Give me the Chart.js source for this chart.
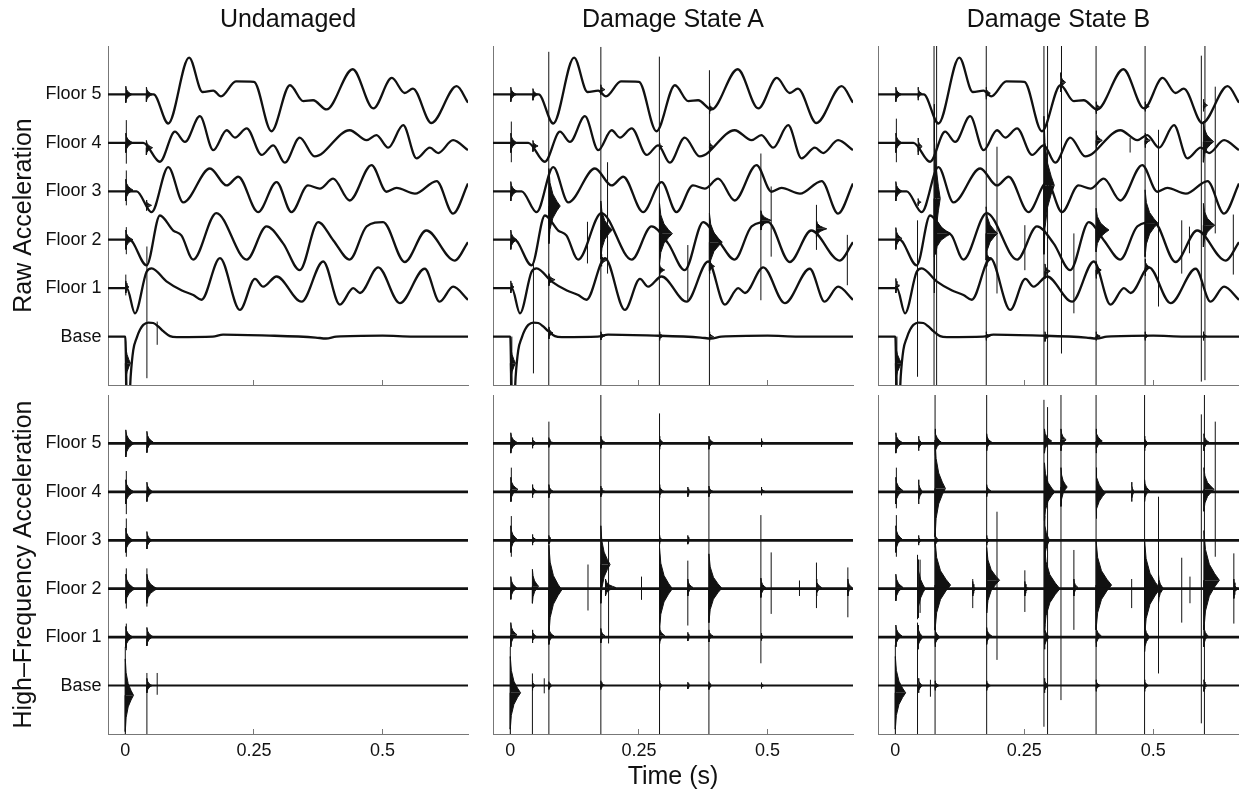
<!DOCTYPE html>
<html><head><meta charset="utf-8">
<script src="https://cdn.jsdelivr.net/npm/chart.js@4.4.1/dist/chart.umd.min.js"></script>
<style>
body{margin:0;background:#fff;width:1239px;height:796px;position:relative;overflow:hidden;font-family:"Liberation Sans",Arial,Helvetica,sans-serif;}
canvas{position:absolute;}
.ttl{position:absolute;top:4px;font-size:25px;line-height:29px;color:#111;white-space:nowrap;transform:translateX(-50%);}
</style></head><body>
<script>
// ---------- labels ----------
const panelTitles = ['Undamaged', 'Damage State A', 'Damage State B'];
const rowTitles = ['Raw Acceleration', 'High\u2013Frequency Acceleration'];
const xTitle = 'Time (s)';
const traceNames = ['Base', 'Floor 1', 'Floor 2', 'Floor 3', 'Floor 4', 'Floor 5'];
const traceOffsets = [1, 2, 3, 4, 5, 6];
const xTickValues = [0, 0.25, 0.5];
const xTickLabels = ['0', '0.25', '0.5'];

// ---------- raw (low-frequency) traces: [time s, value relative to trace baseline] ----------
const rawBase = [[-0.034,0],[0.0,0],[0.003,-1.3],[0.008,-1.3],[0.0104,-0.83],[0.0155,-0.28],[0.022,-0.03],[0.0285,0.14],[0.035,0.24],[0.0447,0.29],[0.0544,0.28],[0.064,0.21],[0.0738,0.11],[0.0868,0.01],[0.1,-0.01],[0.17,0.0],[0.19,0.04],[0.28,0.02],[0.37,-0.02],[0.39,-0.04],[0.41,0.0],[0.5,0.02],[0.56,0.0],[0.666,0.0]];
const rawFloor1 = [[-0.034,0],[0.003,0],[0.0188,-0.52],[0.0414,0.34],[0.0512,0.41],[0.08,0.14],[0.11,-0.05],[0.132,-0.14],[0.148,-0.24],[0.184,0.62],[0.2227,-0.45],[0.252,0.19],[0.268,0.03],[0.294,0.24],[0.3425,-0.28],[0.3846,0.55],[0.417,-0.34],[0.443,0.0],[0.456,-0.1],[0.4915,0.43],[0.5335,-0.31],[0.582,0.40],[0.611,-0.28],[0.637,0.03],[0.666,-0.24]];
const rawFloor2 = [[-0.034,0],[0.008,0],[0.0414,-0.53],[0.0673,0.5],[0.0932,0.19],[0.109,0.09],[0.132,-0.41],[0.177,0.55],[0.236,-0.41],[0.2745,0.275],[0.307,-0.08],[0.339,-0.63],[0.375,0.365],[0.404,-0.01],[0.436,-0.41],[0.469,0.275],[0.501,0.365],[0.543,-0.46],[0.585,0.19],[0.64,-0.43],[0.666,-0.05]];
const rawFloor3 = [[-0.034,0],[0.022,0],[0.0512,-0.43],[0.0835,0.5],[0.1127,-0.23],[0.1645,0.47],[0.197,0.12],[0.2195,0.3],[0.258,-0.43],[0.294,0.19],[0.323,-0.43],[0.355,0.12],[0.378,0.055],[0.404,0.26],[0.436,-0.19],[0.4785,0.54],[0.5076,-0.01],[0.527,0.07],[0.563,-0.05],[0.605,0.21],[0.637,-0.46],[0.666,0.16]];
const rawFloor4 = [[-0.034,0],[0.035,0],[0.0673,-0.39],[0.0965,0.23],[0.116,0.02],[0.145,0.55],[0.171,-0.15],[0.197,0.26],[0.213,0.11],[0.236,0.30],[0.265,-0.25],[0.2875,-0.05],[0.31,-0.41],[0.339,0.11],[0.368,-0.28],[0.436,0.26],[0.469,0.055],[0.488,0.16],[0.511,-0.1],[0.54,0.365],[0.566,-0.32],[0.592,-0.1],[0.608,-0.21],[0.637,0.055],[0.666,-0.15]];
const rawFloor5 = [[-0.034,0],[0.055,0],[0.0835,-0.6],[0.124,0.76],[0.15,0.05],[0.171,0.08],[0.186,-0.04],[0.215,0.27],[0.25,0.26],[0.284,-0.76],[0.32,0.19],[0.346,-0.14],[0.365,-0.12],[0.391,-0.31],[0.442,0.52],[0.482,-0.29],[0.518,0.34],[0.543,0.03],[0.559,0.12],[0.595,-0.59],[0.644,0.17],[0.666,-0.17]];
// high-frequency traces sit on their baselines between impacts
const hfFlat = [[-0.034,0],[0.666,0]];

// ---------- impact bursts: [time s, low, high, decay length s] (absolute row units) ----------
const burstsRawU = [[0.001,5.83,6.17,0.012],[0.041,5.85,6.15,0.012],[0.001,4.8,5.2,0.014],[0.041,4.75,5.05,0.012],[0.001,3.8,4.25,0.014],[0.041,3.6,3.82,0.01],[0.001,2.8,3.2,0.014],[0.001,1.9,2.15,0.006],[0.0,-0.1,1.0,0.01]];
const burstsHfU = [[0.001,5.72,6.28,0.016],[0.042,5.81,6.25,0.012],[0.001,4.75,5.25,0.016],[0.042,4.8,5.2,0.012],[0.001,3.75,4.25,0.014],[0.042,3.82,4.18,0.01],[0.001,2.7,3.3,0.018],[0.042,2.7,3.3,0.02],[0.001,1.78,2.22,0.014],[0.042,1.82,2.2,0.012],[0.0,0.05,1.55,0.016],[0.042,0.85,1.15,0.01]];
const burstsRawA = [[0.001,5.85,6.15,0.011],[0.044,5.88,6.12,0.01],[0.001,4.8,5.2,0.012],[0.044,4.82,5.05,0.01],[0.001,3.8,4.2,0.012],[0.001,2.8,3.2,0.012],[0.001,1.9,2.15,0.006],[0.0,-0.1,1.0,0.01],[0.075,2.92,4.47,0.022],[0.075,2.05,2.3,0.012],[0.075,0.95,1.2,0.008],[0.176,2.6,3.8,0.022],[0.177,2.45,2.7,0.01],[0.176,6.0,6.2,0.008],[0.176,0.93,1.1,0.008],[0.29,2.5,3.75,0.025],[0.29,2.25,2.5,0.01],[0.29,4.85,5.0,0.006],[0.29,0.92,1.1,0.008],[0.387,2.35,3.55,0.025],[0.387,5.6,5.82,0.008],[0.387,4.8,5.05,0.008],[0.387,2.3,2.6,0.01],[0.387,0.9,1.1,0.008],[0.487,3.2,3.6,0.02],[0.595,3.05,3.4,0.02]];
const burstsHfA = [[0.001,5.8,6.22,0.014],[0.001,4.8,5.3,0.014],[0.001,3.75,4.3,0.012],[0.001,2.78,3.25,0.012],[0.001,1.8,2.3,0.012],[0.0,0.1,1.6,0.02],[0.043,5.9,6.12,0.008],[0.043,4.88,5.15,0.008],[0.043,3.9,4.12,0.008],[0.043,2.7,3.4,0.012],[0.043,1.88,2.15,0.008],[0.043,0.9,1.1,0.006],[0.075,2.05,3.9,0.025],[0.075,5.92,6.12,0.006],[0.075,4.88,5.15,0.008],[0.075,3.92,4.1,0.006],[0.075,1.85,2.2,0.01],[0.075,0.92,1.08,0.006],[0.176,2.7,4.3,0.018],[0.185,2.85,3.2,0.02],[0.176,1.88,2.18,0.008],[0.176,5.9,6.15,0.008],[0.176,4.9,5.12,0.006],[0.176,0.92,1.1,0.006],[0.29,2.15,3.85,0.025],[0.29,5.88,6.15,0.008],[0.29,4.88,5.15,0.008],[0.29,3.92,4.1,0.006],[0.29,1.85,2.22,0.01],[0.29,0.9,1.1,0.006],[0.345,2.85,3.2,0.01],[0.345,4.9,5.1,0.005],[0.345,3.92,4.1,0.005],[0.345,1.92,2.1,0.005],[0.345,0.93,1.07,0.005],[0.386,2.3,3.72,0.025],[0.386,5.88,6.15,0.01],[0.386,4.9,5.12,0.008],[0.386,1.9,2.15,0.008],[0.386,0.92,1.08,0.006],[0.487,2.82,3.22,0.01],[0.488,5.93,6.1,0.005],[0.488,4.93,5.1,0.005],[0.488,1.93,2.08,0.005],[0.488,0.94,1.06,0.005],[0.595,2.85,3.2,0.01],[0.656,2.85,3.2,0.008]];
const burstsRawB = [[0.001,5.85,6.15,0.011],[0.001,4.8,5.2,0.012],[0.001,3.8,4.2,0.012],[0.001,2.8,3.25,0.012],[0.001,1.9,2.2,0.006],[0.0,-0.1,1.0,0.012],[0.044,5.88,6.15,0.008],[0.044,4.75,5.1,0.008],[0.044,3.7,3.85,0.006],[0.075,1.9,5.8,0.012],[0.078,2.7,3.55,0.03],[0.176,2.58,3.68,0.022],[0.176,5.9,6.15,0.008],[0.177,2.45,2.75,0.01],[0.176,0.92,1.1,0.008],[0.288,2.7,5.55,0.02],[0.29,2.2,2.5,0.01],[0.29,0.9,1.1,0.008],[0.32,6.05,6.45,0.01],[0.389,5.6,5.85,0.01],[0.389,4.85,5.25,0.012],[0.389,2.75,3.65,0.025],[0.389,2.2,2.55,0.01],[0.389,0.92,1.1,0.008],[0.484,2.65,4.03,0.025],[0.484,5.65,5.85,0.008],[0.484,4.9,5.2,0.01],[0.484,2.25,2.6,0.01],[0.484,0.92,1.1,0.006],[0.597,4.6,5.45,0.02],[0.597,2.85,3.75,0.022],[0.597,5.65,5.9,0.008],[0.597,0.92,1.1,0.006]];
const burstsHfB = [[0.001,5.8,6.22,0.014],[0.001,4.75,5.3,0.014],[0.001,3.75,4.3,0.012],[0.001,2.75,3.3,0.014],[0.001,1.8,2.25,0.012],[0.0,0.1,1.6,0.02],[0.045,5.85,6.15,0.008],[0.045,4.75,5.25,0.008],[0.045,3.9,4.1,0.006],[0.044,2.4,3.6,0.014],[0.044,1.75,2.25,0.01],[0.045,0.85,1.15,0.008],[0.077,5.75,6.3,0.012],[0.077,4.07,6.07,0.02],[0.077,3.85,4.15,0.008],[0.077,2.15,4.0,0.03],[0.077,1.8,2.2,0.01],[0.077,0.9,1.1,0.008],[0.15,2.85,3.15,0.006],[0.177,2.5,3.85,0.025],[0.177,5.85,6.2,0.01],[0.177,4.9,5.15,0.008],[0.177,3.9,4.1,0.006],[0.177,1.85,2.2,0.01],[0.177,0.9,1.1,0.008],[0.251,2.85,3.15,0.006],[0.289,5.8,6.3,0.014],[0.289,4.4,5.6,0.02],[0.289,3.5,4.5,0.01],[0.289,2.1,3.9,0.03],[0.289,1.75,2.25,0.01],[0.289,0.85,1.15,0.008],[0.321,5.85,6.3,0.01],[0.321,4.7,5.5,0.012],[0.346,2.85,3.2,0.008],[0.389,5.8,6.3,0.012],[0.389,4.45,5.5,0.018],[0.389,2.15,4.0,0.03],[0.389,1.8,2.25,0.01],[0.389,0.88,1.12,0.008],[0.458,4.8,5.2,0.005],[0.483,2.0,4.0,0.03],[0.483,5.85,6.15,0.008],[0.483,4.8,5.25,0.01],[0.483,1.7,2.3,0.01],[0.483,0.88,1.12,0.008],[0.51,2.7,3.3,0.01],[0.598,4.6,5.5,0.02],[0.598,2.15,4.2,0.03],[0.598,5.85,6.2,0.01],[0.598,1.8,2.25,0.008],[0.598,0.88,1.12,0.006],[0.656,2.8,3.2,0.006]];

// ---------- thin impact spikes: [time s, low, high] (absolute row units) ----------
const spikesRawU = [[0.002,4.57,5.47],[0.002,3.71,4.43],[0.002,2.7,3.26],[0.001,1.85,2.28],[0.042,0.14,2.86],[0.062,0.83,1.31]];
const spikesHfU = [[0.002,4.54,5.43],[0.002,3.66,4.45],[0.002,2.59,3.42],[0.042,2.63,3.42],[0.002,1.73,2.28],[0.0,0,1.8],[0.042,0,1.26],[0.062,0.81,1.26]];
const spikesRawA = [[0.003,0,1.0],[0.002,4.6,5.44],[0.045,0.24,2.5],[0.0748,0,6.88],[0.150,2.51,3.37],[0.176,0,6.98],[0.189,2.3,4.6],[0.2897,0,6.78],[0.345,1.75,2.89],[0.387,0,6.5],[0.487,1.75,4.78],[0.507,2.65,4.1],[0.595,2.79,3.72],[0.655,2.06,3.1]];
const spikesHfA = [[0.002,4.8,5.5],[0.002,3.66,4.5],[0.0,0,1.8],[0.043,0,1.25],[0.066,0.84,1.15],[0.075,0,6.45],[0.151,2.55,3.5],[0.176,0,7.0],[0.191,1.87,4.0],[0.255,2.77,3.25],[0.29,0,6.62],[0.345,2.24,3.58],[0.386,0,6.04],[0.487,1.46,4.52],[0.507,2.48,3.75],[0.562,2.85,3.17],[0.595,2.6,3.54],[0.656,2.41,3.44]];
const spikesRawB = [[0.003,0,1.0],[0.002,4.6,5.5],[0.043,0.17,3.4],[0.075,0,7.0],[0.08,0,7.0],[0.1762,0,7.0],[0.197,1.89,4.92],[0.251,2.37,3.3],[0.288,0,7.0],[0.295,0,7.0],[0.322,0.65,7.0],[0.346,1.48,3.13],[0.389,0,7.0],[0.455,4.8,5.1],[0.484,0,7.0],[0.510,1.62,5.27],[0.555,2.3,3.4],[0.570,2.72,3.27],[0.593,0.07,6.8],[0.6,0.1,7.0],[0.62,3.13,6.16],[0.655,2.28,3.52]];
const spikesHfB = [[0.002,4.66,5.5],[0.002,3.66,4.52],[0.0,0,1.84],[0.043,2.37,3.7],[0.048,2.5,3.6],[0.043,0,2.3],[0.068,0.77,1.12],[0.077,0,7.0],[0.15,2.6,3.2],[0.177,0,7.0],[0.197,1.53,4.59],[0.251,2.52,3.38],[0.288,0.15,6.9],[0.295,0,6.75],[0.321,0.7,7.0],[0.346,2.15,3.8],[0.389,0,7.0],[0.458,2.6,3.2],[0.483,0,7.0],[0.51,1.25,4.9],[0.555,2.3,3.64],[0.571,2.7,3.25],[0.593,0.22,6.6],[0.599,0,7.0],[0.62,3.66,6.45],[0.656,2.28,3.73]];

// ---------- layout / style ----------
const xMin = -0.0336, xMax = 0.666;
const INK = '#111', AXIS = '#777';
const cols = [{left:0,width:470,axisW:108,padR:2},{left:470,width:385,axisW:23,padR:2},{left:855,width:384,axisW:23,padR:0}];
const rows = [{top:0,height:392,padT:46,axisH:7},{top:392,height:404,padT:3,axisH:62}];
const rawCurves = [rawBase, rawFloor1, rawFloor2, rawFloor3, rawFloor4, rawFloor5];
const panelData = [
  {bursts:[burstsRawU, burstsHfU], spikes:[spikesRawU, spikesHfU]},
  {bursts:[burstsRawA, burstsHfA], spikes:[spikesRawA, spikesHfA]},
  {bursts:[burstsRawB, burstsHfB], spikes:[spikesRawB, spikesHfB]}
];
// decaying envelope outline of one burst (fractions of its decay length / half height)
const envX = [0, 0, 0.1, 0.35, 0.7, 1];
const envY = [0, 1, 0.62, 0.32, 0.13, 0];

Chart.defaults.font.family = '"Liberation Sans", Arial, Helvetica, sans-serif';
Chart.defaults.color = INK;

function burstPoints(list){
  const pts = [];
  list.forEach(([t, lo, hi, tail]) => {
    const mid = (lo + hi) / 2;
    [hi - mid, lo - mid].forEach(h => {
      envX.forEach((fx, k) => pts.push({x: t + fx * tail, y: mid + envY[k] * h}));
      pts.push({x: t, y: null});
    });
  });
  return pts;
}
function spikePoints(list){
  const pts = [];
  list.forEach(([t, lo, hi]) => { pts.push({x:t, y:lo}, {x:t, y:hi}, {x:t, y:null}); });
  return pts;
}
function noPad(s){ s.paddingTop = 0; s.paddingBottom = 0; s.paddingLeft = 0; s.paddingRight = 0; }

function makeChart(ci, ri){
  const c = cols[ci], r = rows[ri];
  const cv = document.createElement('canvas');
  cv.width = c.width; cv.height = r.height;
  cv.style.left = c.left + 'px'; cv.style.top = r.top + 'px';
  cv.style.width = c.width + 'px'; cv.style.height = r.height + 'px';
  document.body.appendChild(cv);
  const isRaw = ri === 0;
  const datasets = traceOffsets.map((off, i) => {
    const arr = isRaw ? rawCurves[i] : hfFlat;
    return {
      data: arr.map(([t, v]) => ({x:t, y:off + v})),
      borderColor: INK, borderWidth: isRaw ? 2.3 : (i === 0 ? 2 : 2.8),
      pointRadius: 0, fill: false, tension: 0,
      cubicInterpolationMode: isRaw ? 'monotone' : 'default'
    };
  });
  datasets.push({
    data: burstPoints(panelData[ci].bursts[ri]),
    borderColor: INK, backgroundColor: INK, borderWidth: 1, borderJoinStyle: 'round',
    pointRadius: 0, fill: 'shape', tension: 0, spanGaps: false
  });
  datasets.push({
    data: spikePoints(panelData[ci].spikes[ri]),
    borderColor: INK, borderWidth: 1, pointRadius: 0, fill: false, tension: 0, spanGaps: false
  });
  new Chart(cv, {
    type: 'line',
    data: {datasets},
    options: {
      responsive: false, animation: false, devicePixelRatio: 1, events: [],
      layout: {padding: {top: r.padT, right: c.padR, left: 0, bottom: 0}},
      plugins: {legend: {display: false}, tooltip: {enabled: false}},
      scales: {
        x: {
          type: 'linear', min: xMin, max: xMax,
          afterBuildTicks: s => { s.ticks = xTickValues.map(v => ({value: v})); },
          afterFit: s => { s.height = r.axisH; noPad(s); },
          ticks: {display: ri === 1, autoSkip: false, maxRotation: 0, padding: 11, color: INK,
                  font: {size: 18}, callback: (v, i) => xTickLabels[i]},
          grid: {drawOnChartArea: false, drawTicks: true, tickLength: -5, tickColor: AXIS, tickWidth: 1},
          border: {display: true, color: AXIS, width: 1},
          title: {display: ri === 1 && ci === 1, text: xTitle, color: INK, font: {size: 25},
                  padding: {top: 0, bottom: 4}}
        },
        y: {
          type: 'linear', min: 0, max: 7,
          afterBuildTicks: s => { s.ticks = traceOffsets.map(v => ({value: v})); },
          afterFit: s => { s.width = c.axisW; noPad(s); },
          ticks: {display: ci === 0, autoSkip: false, padding: 6.5, color: INK,
                  font: {size: 18}, callback: (v, i) => traceNames[i]},
          grid: {drawOnChartArea: false, drawTicks: false},
          border: {display: true, color: AXIS, width: 1},
          title: {display: ci === 0, text: rowTitles[ri], color: INK, font: {size: 25},
                  padding: {top: 9, bottom: 0}}
        }
      }
    }
  });
}

for (let ri = 0; ri < 2; ri++) for (let ci = 0; ci < 3; ci++) makeChart(ci, ri);

panelTitles.forEach((t, i) => {
  const c = cols[i];
  const d = document.createElement('div');
  d.className = 'ttl';
  d.textContent = t;
  d.style.left = (c.left + c.axisW + (c.width - c.axisW - c.padR) / 2) + 'px';
  document.body.appendChild(d);
});
</script>
</body></html>
